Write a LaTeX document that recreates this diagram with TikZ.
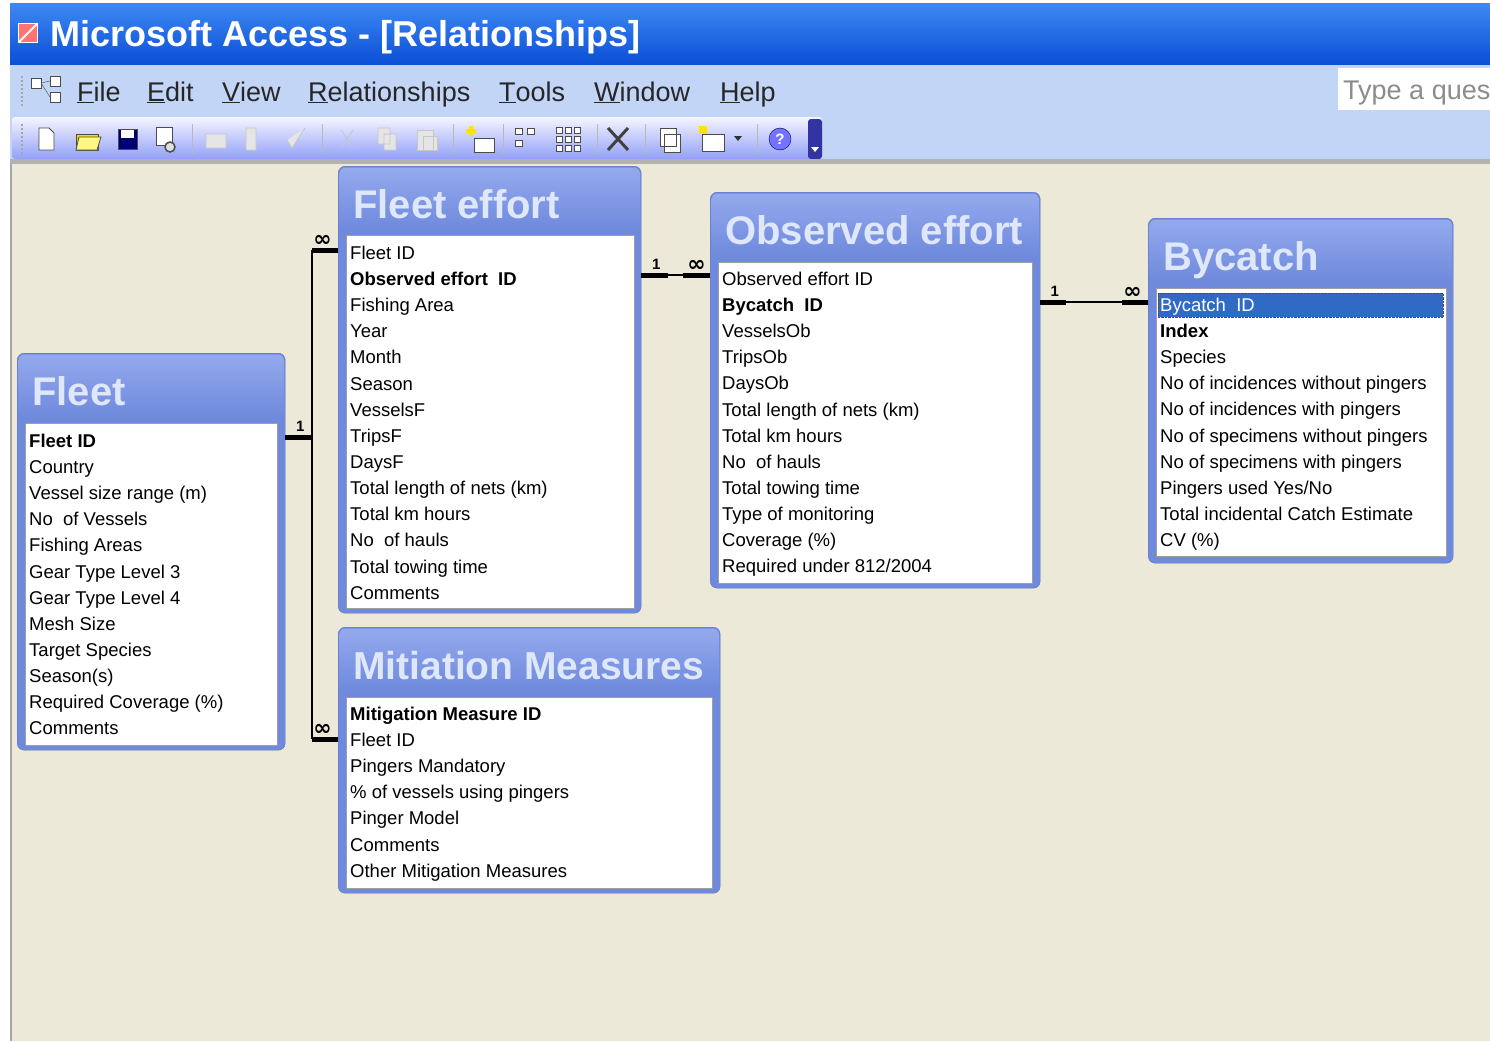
\documentclass[tikz,border=0pt]{standalone}
\usepackage{fontspec}
\setmainfont{Liberation Sans}
\newfontfamily\symfont{DejaVu Sans}
\usepackage{tikz}
\usetikzlibrary{arrows}

\definecolor{canvas}{HTML}{ECE9D8}
\definecolor{menubar}{HTML}{C3D5F7}
\definecolor{frameblue}{HTML}{6F89DC}
\definecolor{framelight}{HTML}{94AAEE}
\definecolor{titletext}{HTML}{DFE7FB}
\definecolor{selblue}{HTML}{316AC5}
\definecolor{xpblue}{HTML}{0A4ED6}
\definecolor{xplight}{HTML}{3C88F3}

\tikzset{
  frame/.style={draw=frameblue!85!black, fill=frameblue, rounded corners=7, anchor=north west, inner sep=0},
  hdr/.style={rounded corners=6, top color=framelight, bottom color=frameblue},
  fieldbox/.style={draw=gray!75, fill=white, anchor=north west, inner sep=0},
  tabtitle/.style={anchor=base west, inner sep=0, text=titletext, font=\bfseries\fontsize{40}{44}\selectfont},
  field/.style={anchor=west, inner sep=0, text height=12.5, text depth=0, font=\fontsize{18.5}{22}\selectfont},
  menu/.style={anchor=base west, inner sep=0, text=black!85, font=\fontsize{27}{30}\selectfont},
  link/.style={line width=1.5},
  stub/.style={line width=5},
  card/.style={above=2pt, inner sep=1, font=\bfseries\fontsize{15}{15}\selectfont},
  many/.style={above=1pt, inner sep=0, font=\symfont\bfseries\fontsize{22}{22}\selectfont},
  icon/.style={draw=gray!60!black, line width=0.8},
  dimicon/.style={draw=gray!45, fill=gray!20, line width=0.8}
}

\begin{document}
\begin{tikzpicture}[x=1pt,y=-1pt]
      \useasboundingbox (0,0) rectangle (1490,1041);
      \fill[white] (0,0) rectangle (1490,1041);
      % title bar
      \shade[top color=xplight, bottom color=xpblue] (10,4) rectangle (1490,65);
      \node[fill=red!55!white, draw=white, minimum size=19, inner sep=0] (appicon) at (28,33) {};
      \draw[white, line width=2] (appicon.south west) -- (appicon.north east);
      \node[anchor=base west, inner sep=0, text=white, font=\bfseries\fontsize{36}{40}\selectfont] (apptitle) at (50,47) {Microsoft Access - [Relationships]};
      % menu bar and toolbar
      \fill[menubar] (10,65) rectangle (1490,161);
      \draw[gray!70, dotted, line width=2] (22,76) -- (22,106);
      \draw[icon, fill=white] (31,78) rectangle (41,88) (50,92) rectangle (60,102) (50,76) rectangle (60,86);
      \draw[gray!60!black] (41,83) -- (50,81) (41,83) -- (50,97);
      \foreach \x/\m in {77/\underline{F}ile, 147/\underline{E}dit, 222/\underline{V}iew, 308/\underline{R}elationships, 499/\underline{T}ools, 594/\underline{W}indow, 720/\underline{H}elp}
        \node[menu] (m\x) at (\x,101) {\m};
      \node[fill=white, anchor=north west, minimum width=160, minimum height=42, inner sep=0] (askbox) at (1338,68) {};
      \node[anchor=base west, inner sep=0, text=gray!90, font=\fontsize{27}{30}\selectfont] (asktext) at (1343,99) {Type a ques};
      \shade[top color=blue!4, bottom color=blue!25!menubar, rounded corners=3] (12,117) rectangle (822,159);
      \fill[blue!55!black!80, rounded corners=3] (808,119) rectangle (822,159);
      \fill[white] (811,147) -- (819,147) -- (815,152) -- cycle;
      \draw[gray!70, dotted, line width=2] (22,124) -- (22,154);
      \foreach \x in {192,322,453,503,597,645,757}
        \draw[gray!55] (\x,124) -- (\x,154);
      % toolbar icons
      \draw[icon, fill=white] (39,128) -- (49,128) -- (54,133) -- (54,150) -- (39,150) -- cycle;
      \draw[icon, fill=yellow!75!orange] (76,134) rectangle (98,150);
      \draw[icon, fill=yellow!50] (79,137) -- (101,137) -- (97,150) -- (76,150) -- cycle;
      \draw[icon, fill=blue!45!black] (118,129) rectangle (137,149);
      \fill[white] (121,130) rectangle (134,138);
      \draw[icon, fill=white] (156,127) rectangle (172,145);
      \draw[icon, fill=gray!25, line width=1.5] (170,147) circle (5);
      \draw[dimicon] (206,134) rectangle (226,148) (256,128) rectangle (246,150) (287,140) -- (292,148) -- (305,128);
      \draw[dimicon] (341,130) -- (353,148) (353,130) -- (341,148) (378,128) rectangle (390,144) (384,134) rectangle (396,150);
      \draw[dimicon] (417,130) rectangle (433,150) (423,136) rectangle (437,150);
      \draw[icon, fill=white] (474,138) rectangle (494,152);
      \fill[yellow!85!orange] (466,129) rectangle (476,133) (469,126) rectangle (473,136);
      \draw[icon, fill=white] (515,128) rectangle (522,134) (527,128) rectangle (534,134) (515,140) rectangle (522,146);
      \foreach \i in {0,1,2}
        \foreach \j in {0,1,2}
          \draw[icon, fill=white] (556+9*\i,127+9*\j) rectangle (562+9*\i,133+9*\j);
      \draw[black!75, line width=3] (608,128) -- (628,150) (628,128) -- (608,150);
      \draw[icon, fill=white] (660,128) rectangle (676,146) (664,134) rectangle (680,152);
      \draw[icon, fill=white] (702,134) rectangle (724,151);
      \fill[yellow!85!orange] (699,126) rectangle (707,134);
      \fill[black!80] (734,136) -- (742,136) -- (738,141) -- cycle;
      \node[circle, fill=blue!55, draw=blue!30!black, minimum size=22, inner sep=0, text=white, font=\bfseries\fontsize{15}{15}\selectfont] (helpicon) at (780,139) {?};
      % canvas
      \fill[gray!60] (10,159) rectangle (1490,164);
      \fill[canvas] (12,164) rectangle (1490,1041);
      \draw[gray!70, line width=2] (11,164) -- (11,1041);
      % tables
      \node[frame, minimum width=268, minimum height=397] (fleet) at (17,353) {};
      \node[frame, minimum width=303, minimum height=447] (feff) at (338,166) {};
      \node[frame, minimum width=330, minimum height=396] (obs) at (710,192) {};
      \node[frame, minimum width=305, minimum height=345] (byc) at (1148,218) {};
      \node[frame, minimum width=382, minimum height=266] (mm) at (338,627) {};
      \foreach \t in {fleet,feff,obs,byc,mm}
        \shade[hdr] ([shift={(1.5,1.5)}]\t.north west) rectangle ([shift={(-1.5,64)}]\t.north east);
      \node[fieldbox, minimum width=252, minimum height=322] (flbox) at (25,423) {};
      \node[fieldbox, minimum width=288, minimum height=373] (febox) at (346,235) {};
      \node[fieldbox, minimum width=314, minimum height=321] (obbox) at (718,262) {};
      \node[fieldbox, minimum width=290, minimum height=268] (bybox) at (1156,288) {};
      \node[fieldbox, minimum width=366, minimum height=191] (mmbox) at (346,697) {};
      \node[tabtitle] (fltitle) at (32,405) {Fleet};
      \node[tabtitle] (fetitle) at (353,218) {Fleet effort};
      \node[tabtitle] (obtitle) at (725,244) {Observed effort};
      \node[tabtitle] (bytitle) at (1163,270) {Bycatch};
      \node[tabtitle, font=\bfseries\fontsize{39}{44}\selectfont] (mmtitle) at (353,679) {Mitiation Measures};
      \fill[selblue] (1158,293) rectangle (1443,317);
      \draw[densely dotted, black!70] (1158,293) rectangle (1443,317);
      % fields
      \foreach \f [count=\i] in {\textbf{Fleet ID}, Country, Vessel size range (m), No\ \ of Vessels, Fishing Areas, Gear Type Level 3, Gear Type Level 4, Mesh Size, Target Species, Season(s), Required Coverage (\%), Comments}
        \node[field] (fl\i) at (29,{441+26.15*(\i-1)}) {\f};
      \foreach \f [count=\i] in {Fleet ID, \textbf{Observed effort\ \ ID}, Fishing Area, Year, Month, Season, VesselsF, TripsF, DaysF, Total length of nets (km), Total km hours, No\ \ of hauls, Total towing time, Comments}
        \node[field] (fe\i) at (350,{253+26.15*(\i-1)}) {\f};
      \foreach \f [count=\i] in {Observed effort ID, \textbf{Bycatch\ \ ID}, VesselsOb, TripsOb, DaysOb, Total length of nets (km), Total km hours, No\ \ of hauls, Total towing time, Type of monitoring, Coverage (\%), Required under 812/2004}
        \node[field] (ob\i) at (722,{279+26.15*(\i-1)}) {\f};
      \foreach \f [count=\i] in {\textcolor{white}{Bycatch\ \ ID}, \textbf{Index}, Species, No of incidences without pingers, No of incidences with pingers, No of specimens without pingers, No of specimens with pingers, Pingers used Yes/No, Total incidental Catch Estimate, CV (\%)}
        \node[field] (by\i) at (1160,{305+26.15*(\i-1)}) {\f};
      \foreach \f [count=\i] in {\textbf{Mitigation Measure ID}, Fleet ID, Pingers Mandatory, \% of vessels using pingers, Pinger Model, Comments, Other Mitigation Measures}
        \node[field] (mm\i) at (350,{714+26.15*(\i-1)}) {\f};
      % relationships
      \coordinate (c1) at ([yshift=4pt]ob1.west);
      \draw[link] (feff.east |- c1) -- (obs.west |- c1);
      \draw[stub] (feff.east |- c1) -- ++(27,0) node[card, pos=.55] {1};
      \draw[stub] (obs.west |- c1) -- ++(-27,0) node[many, pos=.5] {∞};
      \coordinate (c2) at ([yshift=3pt]by1.west);
      \draw[link] (obs.east |- c2) -- (byc.west |- c2);
      \draw[stub] (obs.east |- c2) -- ++(26,0) node[card, pos=.55] {1};
      \draw[stub] (byc.west |- c2) -- ++(-26,0) node[many, pos=.6] {∞};
      \coordinate (c3) at ([yshift=4pt]fl1.west);
      \coordinate (c4) at ([yshift=3pt]fe1.west);
      \coordinate (c5) at ([yshift=1pt]mm2.west);
      \draw[stub] (fleet.east |- c3) -- ++(27,0) coordinate (jn) node[card, pos=.55] {1};
      \draw[link, line width=2] (jn |- c4) -- (jn |- c5);
      \draw[stub] (feff.west |- c4) -- (jn |- c4) node[many, pos=.6] {∞};
      \draw[stub] (mm.west |- c5) -- (jn |- c5) node[many, pos=.6] {∞};
\end{tikzpicture}
\end{document}
